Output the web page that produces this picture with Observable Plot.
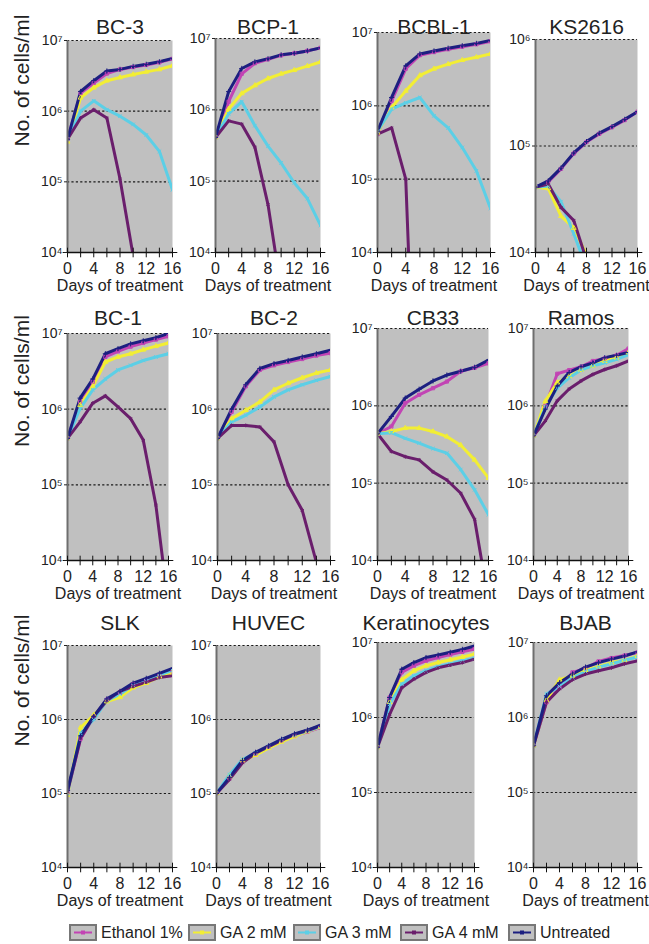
<!DOCTYPE html>
<html>
<head>
<meta charset="utf-8">
<script src="https://cdn.jsdelivr.net/npm/d3@7"></script>
<script src="https://cdn.jsdelivr.net/npm/@observablehq/plot@0.6"></script>
<style>
  body { margin: 0; background: #fff; font-family: "Liberation Sans", Arial, Helvetica, sans-serif; color: #222; }
  #wrap { position: relative; width: 649px; height: 944px; overflow: hidden; }
  .panel { position: absolute; }
  .lg-box { position: absolute; width: 24px; height: 13px; background: #c0c0c0; border: 2px solid #777; }
  .lg-text { position: absolute; font-size: 16px; line-height: 16px; white-space: nowrap; }
</style>
</head>
<body>
<div id="wrap"></div>
<script>
// ---------- data ----------
const days = [0, 2, 4, 6, 8, 10, 12, 14, 16];
const minorDays = [0, 2, 4, 6, 8, 10, 12, 14, 16];
const xTickLabels = [0, 4, 8, 12, 16];
const seriesNames = ["Ethanol 1%", "GA 2 mM", "GA 3 mM", "GA 4 mM", "Untreated"];
const seriesColors = ["#c244b4", "#f2ee34", "#5ccfe6", "#6a1e6c", "#1c1f80"];
const seriesSymbols = ["square", "triangle", "times", "asterisk", "plus"];
const panelTitles = ["BC-3", "BCP-1", "BCBL-1", "KS2616", "BC-1", "BC-2", "CB33", "Ramos",
                     "SLK", "HUVEC", "Keratinocytes", "BJAB"];
const yDomainMain = [1e4, 1e7];
const yDomainKS = [1e4, 1e6];
const yTicksMain = [1e4, 1e5, 1e6, 1e7];
const yTicksKS = [1e4, 1e5, 1e6];
const yTitle = "No. of cells/ml";
const xTitle = "Days of treatment";

// series order: Ethanol 1%, GA 2 mM, GA 3 mM, GA 4 mM, Untreated
const bc3 = [
  [4e5, 1.8e6, 2.5e6, 3.4e6, 3.9e6, 4.2e6, 4.5e6, 4.9e6, 5.5e6],
  [3.7e5, 1.55e6, 2.15e6, 2.7e6, 3.0e6, 3.3e6, 3.6e6, 3.9e6, 4.4e6],
  [4e5, 1.0e6, 1.4e6, 1.05e6, 8.5e5, 6.5e5, 4.6e5, 2.7e5, 7.7e4],
  [4e5, 8e5, 1.05e6, 8e5, 1.1e5, 9e3],
  [4e5, 1.9e6, 2.7e6, 3.7e6, 3.9e6, 4.3e6, 4.6e6, 5.0e6, 5.6e6]
];
const bcp1 = [
  [4.1e5, 1.3e6, 3.2e6, 4.5e6, 5.1e6, 5.8e6, 6.2e6, 6.7e6, 7.4e6],
  [4.1e5, 1.03e6, 1.7e6, 2.2e6, 2.75e6, 3.2e6, 3.6e6, 4.1e6, 4.7e6],
  [4.1e5, 8.8e5, 1.3e6, 6e5, 3.1e5, 1.8e5, 9.5e4, 5.7e4, 2.4e4],
  [4.1e5, 7e5, 6.3e5, 3e5, 4.7e4, 3e3],
  [4.1e5, 1.8e6, 3.8e6, 4.7e6, 5.2e6, 5.9e6, 6.2e6, 6.7e6, 7.4e6]
];
const bcbl1 = [
  [4.1e5, 1.17e6, 3.2e6, 4.9e6, 5.4e6, 5.9e6, 6.4e6, 6.9e6, 7.6e6],
  [4.3e5, 9.5e5, 1.6e6, 2.6e6, 3.2e6, 3.7e6, 4.2e6, 4.6e6, 5.1e6],
  [4.5e5, 9e5, 1.1e6, 1.3e6, 7.3e5, 5e5, 2.7e5, 1.3e5, 4e4],
  [4.1e5, 5e5, 1e5, 1],
  [4.5e5, 1.3e6, 3.5e6, 5.1e6, 5.6e6, 6.1e6, 6.6e6, 7.1e6, 7.8e6]
];
const ks2616 = [
  [4.1e4, 4.6e4, 6.1e4, 8.5e4, 1.09e5, 1.3e5, 1.5e5, 1.75e5, 2.1e5],
  [4.1e4, 4.0e4, 2.2e4, 1.7e4, 9.5e3],
  [4.1e4, 4.2e4, 3.0e4, 1.5e4, 7.2e3],
  [4.1e4, 4.4e4, 2.65e4, 2.0e4, 8.5e3],
  [4.1e4, 4.7e4, 6.2e4, 8.6e4, 1.1e5, 1.32e5, 1.52e5, 1.78e5, 2.1e5]
];
const bc1 = [
  [4.1e5, 1.25e6, 2.3e6, 4.9e6, 5.8e6, 6.7e6, 7.5e6, 8.3e6, 9.2e6],
  [4.1e5, 1.13e6, 2.0e6, 4.2e6, 4.9e6, 5.4e6, 6.1e6, 6.8e6, 7.5e6],
  [4.1e5, 1.02e6, 1.8e6, 2.5e6, 3.3e6, 3.8e6, 4.4e6, 4.9e6, 5.4e6],
  [4.1e5, 6.8e5, 1.2e6, 1.5e6, 1.07e6, 7.5e5, 3.9e5, 5.4e4, 2.5e3],
  [4.1e5, 1.4e6, 2.5e6, 5.4e6, 6.3e6, 7.3e6, 8.0e6, 8.8e6, 1.0e7]
];
const bc2 = [
  [4.1e5, 9.2e5, 2.0e6, 3.3e6, 3.8e6, 4.2e6, 4.6e6, 5.1e6, 5.5e6],
  [4.1e5, 7.5e5, 9.7e5, 1.25e6, 1.8e6, 2.2e6, 2.6e6, 3.0e6, 3.3e6],
  [4.1e5, 6.8e5, 8.3e5, 1.07e6, 1.45e6, 1.8e6, 2.1e6, 2.4e6, 2.7e6],
  [4.1e5, 6.1e5, 6.1e5, 5.8e5, 3.7e5, 1e5, 4.6e4, 9.5e3],
  [4.1e5, 1.0e6, 2.1e6, 3.45e6, 4.0e6, 4.4e6, 4.9e6, 5.4e6, 6.0e6]
];
const cb33 = [
  [4.35e5, 5.4e5, 1.08e6, 1.39e6, 1.69e6, 2.06e6, 2.8e6, 3.1e6, 3.55e6],
  [4.35e5, 4.66e5, 5.15e5, 5.15e5, 4.66e5, 4.0e5, 3.1e5, 2.0e5, 1.16e5],
  [4.35e5, 4.5e5, 3.8e5, 3.3e5, 2.8e5, 2.45e5, 1.5e5, 8.2e4, 3.9e4],
  [4.35e5, 2.57e5, 2.2e5, 2.0e5, 1.4e5, 1.1e5, 7.4e4, 3.4e4, 3e3],
  [4.35e5, 7.3e5, 1.26e6, 1.64e6, 2.1e6, 2.5e6, 2.8e6, 3.15e6, 3.9e6]
];
const ramos = [
  [4.1e5, 1.0e6, 2.6e6, 2.9e6, 3.2e6, 3.8e6, 4.1e6, 4.5e6, 5.5e6],
  [4.1e5, 1.15e6, 2.0e6, 2.4e6, 2.9e6, 3.3e6, 3.8e6, 4.2e6, 4.9e6],
  [4.1e5, 9.6e5, 1.7e6, 2.3e6, 2.9e6, 3.3e6, 3.6e6, 4.0e6, 4.6e6],
  [4.1e5, 6.4e5, 1.16e6, 1.65e6, 2.1e6, 2.55e6, 2.95e6, 3.3e6, 3.8e6],
  [4.1e5, 9.1e5, 1.8e6, 2.7e6, 3.2e6, 3.6e6, 4.2e6, 4.5e6, 4.9e6]
];
const slk = [
  [1.05e5, 5.5e5, 1.1e6, 1.85e6, 2.3e6, 3.0e6, 3.4e6, 4.0e6, 4.4e6],
  [9.5e4, 7.8e5, 1.15e6, 1.75e6, 2.0e6, 2.7e6, 3.1e6, 3.8e6, 4.3e6],
  [1.0e5, 6.5e5, 1.0e6, 1.8e6, 2.2e6, 2.9e6, 3.3e6, 4.0e6, 4.6e6],
  [1.05e5, 5.6e5, 1.1e6, 1.8e6, 2.4e6, 2.8e6, 3.2e6, 3.7e6, 3.9e6],
  [1.1e5, 6.0e5, 1.1e6, 1.9e6, 2.4e6, 3.1e6, 3.6e6, 4.2e6, 4.9e6]
];
const huvec = [
  [1e5, 1.6e5, 2.7e5, 3.4e5, 4.2e5, 5.2e5, 6.0e5, 6.8e5, 7.8e5],
  [1e5, 1.7e5, 2.8e5, 3.3e5, 4.1e5, 5.0e5, 5.9e5, 6.9e5, 7.9e5],
  [1e5, 1.8e5, 2.9e5, 3.5e5, 4.3e5, 5.3e5, 6.2e5, 7.0e5, 8.0e5],
  [1e5, 1.55e5, 2.6e5, 3.5e5, 4.3e5, 5.2e5, 6.3e5, 7.1e5, 8.2e5],
  [1e5, 1.65e5, 2.8e5, 3.6e5, 4.4e5, 5.4e5, 6.4e5, 7.2e5, 8.4e5]
];
const keratinocytes = [
  [4e5, 1.85e6, 4.0e6, 4.9e6, 5.7e6, 6.3e6, 6.9e6, 7.5e6, 8.2e6],
  [4e5, 1.6e6, 3.2e6, 4.2e6, 4.9e6, 5.4e6, 5.9e6, 6.4e6, 7.0e6],
  [4e5, 1.5e6, 2.8e6, 3.6e6, 4.2e6, 4.8e6, 5.2e6, 5.7e6, 6.2e6],
  [4e5, 1.1e6, 2.5e6, 3.25e6, 4.0e6, 4.6e6, 5.0e6, 5.4e6, 6.0e6],
  [4e5, 1.85e6, 4.4e6, 5.4e6, 6.3e6, 6.8e6, 7.4e6, 8.1e6, 9.0e6]
];
const bjab = [
  [4.2e5, 1.6e6, 2.5e6, 4.0e6, 4.5e6, 5.6e6, 6.2e6, 6.7e6, 7.4e6],
  [4.2e5, 1.7e6, 3.2e6, 3.6e6, 4.3e6, 4.8e6, 5.4e6, 5.8e6, 6.6e6],
  [4.2e5, 2.05e6, 2.6e6, 3.4e6, 4.1e6, 4.7e6, 5.2e6, 5.8e6, 6.4e6],
  [4.2e5, 1.6e6, 2.4e6, 3.2e6, 3.8e6, 4.2e6, 4.6e6, 5.2e6, 5.7e6],
  [4.2e5, 1.95e6, 2.9e6, 3.8e6, 4.7e6, 5.4e6, 6.0e6, 6.6e6, 7.5e6]
];
const panelValues = [bc3, bcp1, bcbl1, ks2616, bc1, bc2, cb33, ramos, slk, huvec, keratinocytes, bjab];

// ---------- layout (pixel frame of each panel) ----------
const layout = [
  {L: 67, R: 172, T: 40, B: 252}, {L: 215, R: 320, T: 38, B: 252},
  {L: 377, R: 490, T: 32, B: 252}, {L: 535, R: 637, T: 39, B: 252},
  {L: 67, R: 168, T: 333, B: 560}, {L: 217, R: 330, T: 333, B: 560},
  {L: 377, R: 488, T: 328, B: 560}, {L: 533, R: 628, T: 328, B: 560},
  {L: 67, R: 172, T: 645, B: 867}, {L: 216, R: 320, T: 645, B: 867},
  {L: 377, R: 474, T: 642, B: 867}, {L: 533, R: 637, T: 642, B: 867}
];
const titleBaselines = [33, 324, 629];
const yTitleShift = [0, 0, -10];
const FONT = '"Liberation Sans", Arial, Helvetica, sans-serif';
const SUP = "⁰¹²³⁴⁵⁶⁷⁸⁹";
const supFormat = d => "10" + SUP[Math.round(Math.log10(d))];

const wrap = document.getElementById("wrap");

panelValues.forEach((vals, i) => {
  const f = layout[i];
  const col = i % 4, row = Math.floor(i / 4);
  const isKS = panelTitles[i] === "KS2616";
  const dom = isKS ? yDomainKS : yDomainMain;
  const ticks = isKS ? yTicksKS : yTicksMain;
  const ml = col === 0 ? f.L : 44, mr = 26, mt = 42, mb = 50;
  const w = f.R - f.L + ml + mr, h = f.B - f.T + mt + mb;

  const data = [];
  vals.forEach((arr, s) => arr.forEach((v, k) => {
    if (v != null) data.push({day: days[k], value: v, series: seriesNames[s]});
  }));

  const marks = [
    Plot.frame({fill: "#c0c0c0"}),
    Plot.ruleY(ticks.slice(1), {stroke: "#1a1a1a", strokeWidth: 1.1, strokeDasharray: "2.2,2.2"}),
    Plot.line(data, {x: "day", y: "value", z: "series", stroke: "series", strokeWidth: 3, clip: true}),
    Plot.dot(data, {x: "day", y: "value", stroke: "series", symbol: "series", r: 1.8, strokeWidth: 1, clip: true}),
    Plot.ruleX([0], {stroke: "#6e6e6e", strokeWidth: 2}),
    Plot.ruleY([dom[0]], {stroke: "#111", strokeWidth: 1.5}),
    Plot.dot(minorDays, {x: d => d, y: () => dom[0], symbol: "plus", r: 3.2, stroke: "#111", strokeWidth: 1}),
    Plot.axisY({ticks, tickFormat: supFormat, tickSize: 3, tickPadding: 2, fontSize: 14, label: null}),
    Plot.axisX({ticks: xTickLabels, tickSize: 0, tickPadding: 10, fontSize: 16, label: null}),
    Plot.text([xTitle], {frameAnchor: "bottom", lineAnchor: "top", dy: 27, fontSize: 16}),
    Plot.text([panelTitles[i]], {frameAnchor: "top", lineAnchor: "bottom", dy: titleBaselines[row] - f.T, fontSize: 21})
  ];
  if (col === 0) {
    marks.push(Plot.text([yTitle], {frameAnchor: "left", rotate: -90, dx: 22 - f.L, dy: yTitleShift[row], fontSize: 21}));
  }

  const chart = Plot.plot({
    width: w, height: h,
    marginLeft: ml, marginRight: mr, marginTop: mt, marginBottom: mb,
    x: {domain: [0, 16], label: null},
    y: {type: "log", domain: dom, label: null},
    color: {domain: seriesNames, range: seriesColors},
    symbol: {domain: seriesNames, range: seriesSymbols},
    style: {fontFamily: FONT, fontSize: "14px", color: "#222", background: "transparent", overflow: "visible"},
    marks
  });
  const div = document.createElement("div");
  div.className = "panel";
  div.style.left = (f.L - ml) + "px";
  div.style.top = (f.T - mt) + "px";
  div.style.width = w + "px";
  div.appendChild(chart);
  wrap.appendChild(div);
});

// ---------- legend ----------
const legendBoxX = [69, 188, 293, 400, 508];
seriesNames.forEach((name, s) => {
  const box = document.createElement("div");
  box.className = "lg-box";
  box.style.left = legendBoxX[s] + "px";
  box.style.top = "924px";
  const c = seriesColors[s];
  box.innerHTML = `<svg width="24" height="13" style="display:block"><line x1="3" x2="21" y1="6.5" y2="6.5" stroke="${c}" stroke-width="2"/><rect x="10" y="4.5" width="4" height="4" fill="${c}"/></svg>`;
  wrap.appendChild(box);
  const t = document.createElement("div");
  t.className = "lg-text";
  t.textContent = name;
  t.style.left = (legendBoxX[s] + 32) + "px";
  t.style.top = "925px";
  wrap.appendChild(t);
});
</script>
</body>
</html>
